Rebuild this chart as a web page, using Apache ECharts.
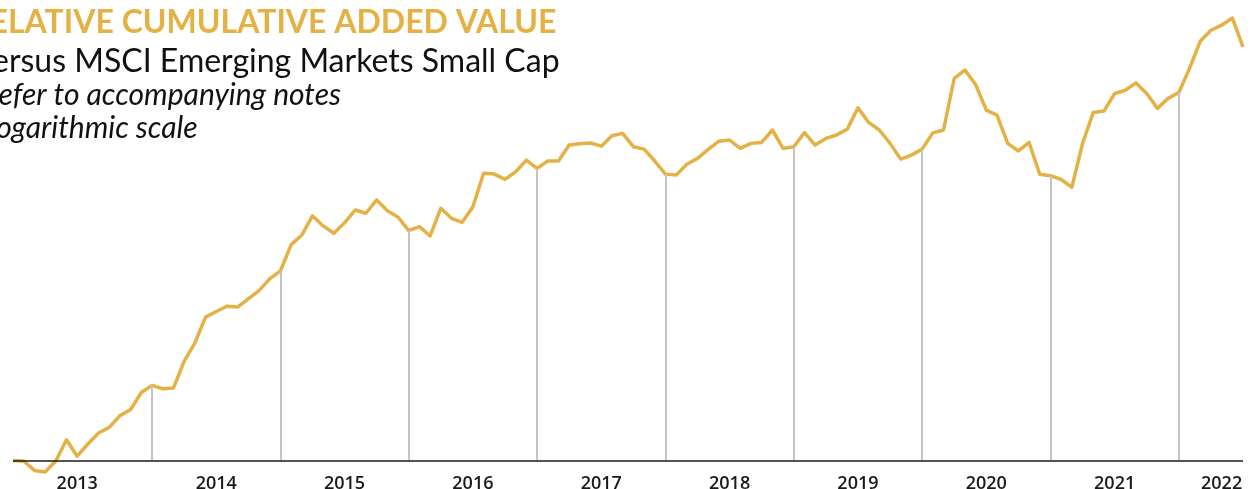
<!DOCTYPE html>
<html>
<head>
<meta charset="utf-8">
<script src="https://cdn.jsdelivr.net/npm/echarts@6/dist/echarts.min.js"></script>
<style>
  html, body { margin: 0; padding: 0; background: #ffffff; overflow: hidden; }
  #chart { width: 1251px; height: 489px; }
</style>
</head>
<body>
<div id="chart"></div>
<script>
// ---- Data ----
const titleText = 'RELATIVE CUMULATIVE ADDED VALUE';
const subtitleText = 'versus MSCI Emerging Markets Small Cap';
const noteTexts = ['Refer to accompanying notes', 'Logarithmic scale'];

const startYear = 2012;
const startMonth = 11; // first monthly observation: Nov 2012

// relative cumulative added value (start = 100), monthly, Nov 2012 - Jun 2022
const values = [
  100.0, 99.9, 97.6, 97.2, 99.9, 105.3, 101.1, 104.2, 107.1, 108.6, 111.8, 113.5, 118.4,
  120.5, 119.5, 119.7, 127.9, 133.8, 142.7, 144.7, 146.6, 146.3, 149.3, 152.4, 156.9,
  160.0, 170.7, 174.9, 183.4, 178.9, 175.7, 180.3, 186.1, 184.6, 190.8, 185.8, 182.8,
  176.8, 178.6, 174.5, 186.9, 182.3, 180.5, 187.6, 203.8, 203.4, 200.8, 204.6, 210.6,
  206.3, 210.1, 210.1, 218.6, 219.3, 219.7, 218.0, 223.7, 225.0, 217.7, 216.4, 210.1,
  203.4, 202.9, 208.4, 211.5, 216.3, 220.7, 221.3, 216.8, 219.5, 220.0, 226.9, 216.8,
  217.7, 225.4, 218.6, 222.2, 224.1, 227.4, 239.7, 231.2, 226.9, 219.5, 211.1, 213.2,
  216.4, 225.3, 226.9, 257.8, 263.2, 254.0, 238.4, 235.4, 219.5, 215.4, 220.0, 203.3,
  202.6, 200.7, 196.9, 219.5, 237.0, 237.8, 248.4, 250.4, 255.0, 248.4, 239.4, 245.4,
  249.0, 264.3, 282.7, 290.5, 294.2, 299.5, 278.8
];

const baseValue = 100;

// year tick labels and the month category each one is written under
const yearLabels = ['2013', '2014', '2015', '2016', '2017', '2018', '2019', '2020', '2021', '2022'];
const yearLabelMonths = ['2013-05', '2014-06', '2015-06', '2016-06', '2017-06', '2018-06', '2019-06', '2020-06', '2021-06', '2022-04'];

// ---- Build categories ----
const months = [];
for (let i = 0; i < values.length; i++) {
  const m0 = startMonth - 1 + i;
  const y = startYear + Math.floor(m0 / 12);
  const m = (m0 % 12) + 1;
  months.push(y + '-' + (m < 10 ? '0' + m : '' + m));
}

// year-end drop lines (December points)
const dropLines = [];
months.forEach((c, i) => {
  if (c.endsWith('-12') && Math.abs(values[i] - baseValue) > 0.5) {
    dropLines.push([
      { coord: [c, values[i]], lineStyle: { color: '#c4c4c4', width: 2, type: 'solid' } },
      { coord: [c, baseValue] }
    ]);
  }
});

const gold = '#E4B144';

const chart = echarts.init(document.getElementById('chart'), null, { renderer: 'canvas' });
chart.setOption({
  animation: false,
  backgroundColor: '#ffffff',
  graphic: [
    { type: 'text', x: -31, y: 7, silent: true,
      style: { text: titleText, fill: gold, font: 'bold 32px Lato', verticalAlign: 'top', align: 'left' } },
    { type: 'text', x: -24, y: 46, silent: true,
      style: { text: subtitleText, fill: '#111111', font: 'normal 32px Lato', verticalAlign: 'top', align: 'left' } },
    { type: 'text', x: -18, y: 80, silent: true,
      style: { text: noteTexts[0], fill: '#111111', font: 'italic 30px Lato', verticalAlign: 'top', align: 'left' } },
    { type: 'text', x: -17, y: 113, silent: true,
      style: { text: noteTexts[1], fill: '#111111', font: 'italic 30px Lato', verticalAlign: 'top', align: 'left' } }
  ],
  grid: { left: 13, right: 8, top: 8, bottom: 14, containLabel: false, outerBoundsMode: 'none' },
  xAxis: {
    type: 'category',
    data: months,
    boundaryGap: false,
    axisLine: { show: false },
    axisTick: { show: false },
    splitLine: { show: false },
    axisLabel: {
      interval: (index, value) => yearLabelMonths.indexOf(value) >= 0,
      formatter: (value) => {
        const k = yearLabelMonths.indexOf(value);
        return k >= 0 ? yearLabels[k] : '';
      },
      color: '#1a1a1a',
      fontFamily: 'Open Sans',
      fontWeight: 600,
      fontSize: 18,
      margin: 0
    }
  },
  yAxis: {
    type: 'log',
    min: 96.5,
    max: 307,
    show: false,
    splitLine: { show: false }
  },
  series: [
    {
      name: 'guides',
      type: 'line',
      data: [],
      z: 1,
      silent: true,
      markLine: {
        silent: true,
        symbol: ['none', 'none'],
        label: { show: false },
        animation: false,
        data: [
          ...dropLines,
          { yAxis: baseValue, lineStyle: { color: '#1a1a1a', width: 1.5, type: 'solid' } }
        ]
      }
    },
    {
      name: 'Relative cumulative added value',
      type: 'line',
      data: values,
      z: 3,
      showSymbol: false,
      symbol: 'none',
      smooth: false,
      lineStyle: { color: gold, width: 3.5, join: 'round' },
      itemStyle: { color: gold }
    }
  ]
});
</script>
</body>
</html>
